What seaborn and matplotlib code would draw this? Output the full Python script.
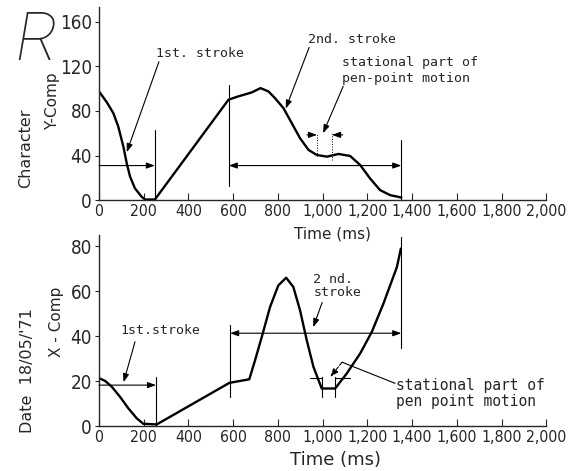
import matplotlib
matplotlib.use("Agg")
import matplotlib.pyplot as plt
import matplotlib.ticker as mticker
from matplotlib import font_manager as fm
import seaborn as sns
import pandas as pd

# ----------------------------
# Data
# ----------------------------
y_time = [0, 34, 64, 86, 109, 124, 139, 161, 191, 206, 250, 579, 623, 683, 722,
          758, 787, 825, 862, 899, 937, 974, 1019, 1071, 1123, 1168, 1212, 1257,
          1302, 1352]
y_comp = [97.4, 88, 78, 66, 48, 33, 21, 10.5, 3, 0.6, 0.6, 90, 93, 96.5, 100.4,
          97.4, 91.4, 82.4, 69, 55.5, 45, 40.5, 39, 41.4, 39.6, 31.5, 19.5, 9,
          4.5, 2.4]

x_time = [0, 27, 57, 94, 131, 169, 198, 258, 583, 672, 698, 728, 765, 802, 837,
          869, 899, 929, 959, 996, 1056, 1108, 1168, 1220, 1272, 1332, 1350]
x_comp = [21.3, 20.1, 17.5, 13, 7.9, 3.4, 1.0, 0.7, 19.2, 20.8, 29.3, 39.7, 53,
          62.6, 66, 61.9, 51.5, 38.2, 26.3, 16.7, 16.7, 23.4, 32.3, 41.9, 54.5,
          70.7, 79]

stroke_bounds = [0, 250, 580, 1352]   # ms: 1st stroke end, 2nd stroke start/end
x_ticks = list(range(0, 2001, 200))
top_yticks = [0, 40, 80, 120, 160]
bot_yticks = [0, 20, 40, 60, 80]

sns.set_style("ticks")
MONO = "DejaVu Sans Mono"
SANS = "DejaVu Sans"

# the scan's tick digits are narrow: use a regular-weight condensed face if any
narrow = None
for f in fm.fontManager.ttflist:
    is_narrow = ("Narrow" in f.name or "Condensed" in f.name or "condensed" in str(f.stretch))
    regular = f.weight in (400, "normal", "regular", "book") and f.style == "normal"
    if is_narrow and regular and "Mono" not in f.name and "Serif" not in f.name:
        narrow = f
        break
if narrow is not None:
    tick_font = fm.FontProperties(fname=narrow.fname)
    xsize, ysize = 11.3, 13.5
else:
    tick_font = fm.FontProperties(family=SANS)
    xsize, ysize = 10, 12.5

fig = plt.figure(figsize=(5.69, 4.71), dpi=100)
ax1 = fig.add_axes([0.174, 0.575, 0.786, 0.41])
ax2 = fig.add_axes([0.174, 0.0955, 0.786, 0.4055])

top_df = pd.DataFrame({"t": y_time, "v": y_comp})
bot_df = pd.DataFrame({"t": x_time, "v": x_comp})
sns.lineplot(data=top_df, x="t", y="v", ax=ax1, color="black", lw=1.7, sort=False)
sns.lineplot(data=bot_df, x="t", y="v", ax=ax2, color="black", lw=1.7, sort=False)

fmt = mticker.FuncFormatter(lambda v, p: f"{v:,.0f}")
for ax, yt, ymax in [(ax1, top_yticks, 173), (ax2, bot_yticks, 85)]:
    ax.set_xlim(0, 2000)
    ax.set_ylim(0, ymax)
    ax.set_xticks(x_ticks)
    ax.set_yticks(yt)
    ax.xaxis.set_major_formatter(fmt)
    ax.spines[["top", "right"]].set_visible(False)
    for s in ["left", "bottom"]:
        ax.spines[s].set_linewidth(1.0)
    ax.tick_params(axis="x", direction="in", length=5, pad=3)
    ax.tick_params(axis="y", direction="out", length=3, pad=2)
    for lab in ax.get_xticklabels():
        lab.set_fontproperties(tick_font)
        lab.set_fontsize(xsize)
    for lab in ax.get_yticklabels():
        lab.set_fontproperties(tick_font)
        lab.set_fontsize(ysize)
    ax.set_xlabel("")
    ax.set_ylabel("")

thin = dict(color="black", lw=0.8)


def arrow(ax, a, b, style="-|>", ls="-"):
    ax.annotate("", xy=b, xytext=a,
                arrowprops=dict(arrowstyle=style + ",head_length=0.5,head_width=0.18",
                                color="black", lw=0.8, ls=ls,
                                shrinkA=0, shrinkB=0))


# ---- top panel (Y component) annotations
ax1.plot([stroke_bounds[1]] * 2, [0, 63], **thin)
ax1.plot([stroke_bounds[2]] * 2, [13, 103], **thin)
ax1.plot([stroke_bounds[3]] * 2, [0, 54], **thin)
arrow(ax1, (0, 31), (stroke_bounds[1], 31))
arrow(ax1, (stroke_bounds[2], 31), (stroke_bounds[3], 31), style="<|-|>")
ax1.text(255, 131, "1st. stroke", fontsize=9.5, family=MONO, va="center")
arrow(ax1, (268, 124), (124, 43))
ax1.text(935, 144, "2nd. stroke", fontsize=9.5, family=MONO, va="center")
arrow(ax1, (940, 137), (835, 82))
ax1.text(1087, 116, "stational part of\npen-point motion", fontsize=9.5,
         family=MONO, va="center", linespacing=1.35)
arrow(ax1, (1092, 102), (1002, 60))
ax1.plot([975, 975], [40, 60], color="black", lw=0.7, ls=":")
ax1.plot([1042, 1042], [36, 60], color="black", lw=0.7, ls=":")
arrow(ax1, (930, 58.5), (975, 58.5))
arrow(ax1, (1090, 58.5), (1042, 58.5))

# ---- bottom panel (X component) annotations
ax2.plot([255] * 2, [0, 22], **thin)
ax2.plot([586] * 2, [13, 45], **thin)
ax2.plot([stroke_bounds[3]] * 2, [34.5, 84], **thin)
arrow(ax2, (0, 18.2), (255, 18.2))
arrow(ax2, (586, 41.3), (stroke_bounds[3], 41.3), style="<|-|>")
ax2.text(94, 42.5, "1st.stroke", fontsize=9.5, family=MONO, va="center")
arrow(ax2, (161, 37.5), (110, 19.5))
ax2.text(958, 62.5, "2 nd.\nstroke", fontsize=9.5, family=MONO, va="center",
         linespacing=1.0)
arrow(ax2, (998, 55), (958, 44))
ax2.plot([944, 998], [21.3, 21.3], **thin)
ax2.plot([1056, 1123], [21.3, 21.3], **thin)
ax2.plot([998, 998], [13, 22], **thin)
ax2.plot([1056, 1056], [13, 22], **thin)
ax2.plot([1324, 1087], [19, 28.4], **thin)
arrow(ax2, (1087, 28.4), (1034, 21.8), ls="--")
ax2.text(1326, 14.5, "stational part of\npen point motion", fontsize=10.5,
         family=MONO, va="center", linespacing=1.1)

# ---- axis labels and margin notes
fig.text(0.584, 0.503, "Time (ms)", ha="center", va="center", fontsize=11,
         family=SANS)
fig.text(0.59, 0.024, "Time (ms)", ha="center", va="center", fontsize=13,
         family=SANS)
fig.text(0.093, 0.786, "Y-Comp", rotation=90, ha="center", va="center",
         fontsize=11, family=SANS)
fig.text(0.045, 0.686, "Character", rotation=90, ha="center", va="center",
         fontsize=11.5, family=SANS)
fig.text(0.1, 0.316, "X - Comp", rotation=90, ha="center", va="center",
         fontsize=11, family=SANS)
fig.text(0.048, 0.214, "Date  18/05/'71", rotation=90, ha="center", va="center",
         fontsize=11.5, family=SANS)
fig.text(0.064, 0.91, "R", fontsize=48, style="italic", weight=100,
         family=["Roboto", "Lato", "DejaVu Sans"], ha="center", va="center")

fig.savefig("out.png", dpi=100)
